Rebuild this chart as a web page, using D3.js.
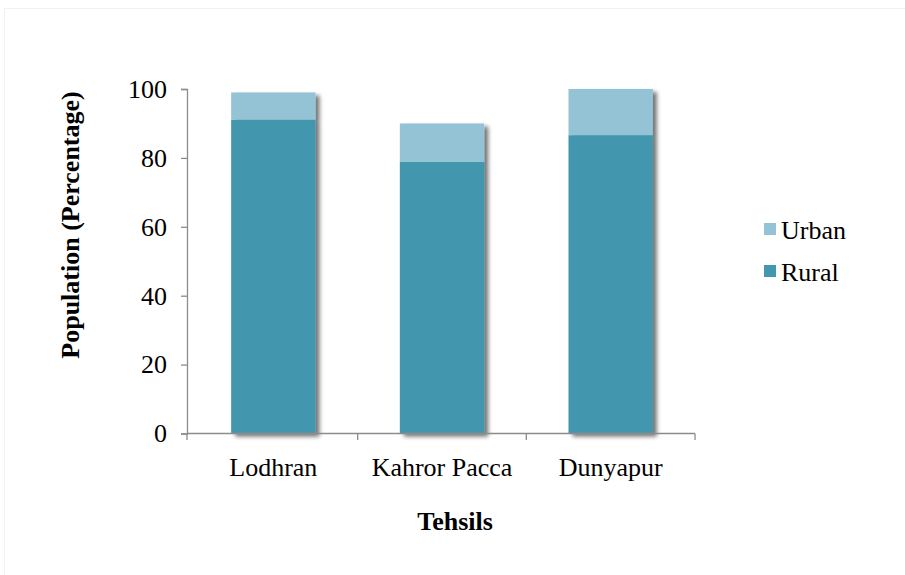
<!DOCTYPE html>
<html><head><meta charset="utf-8">
<script src="https://cdn.jsdelivr.net/npm/d3@7"></script>
<style>body{margin:0;background:#fff}svg{display:block}text{font-family:"Liberation Serif","Times New Roman",serif;fill:#000}</style>
</head><body>
<script>
const categories = ["Lodhran", "Kahror Pacca", "Dunyapur"];
const rural = [91.1, 78.8, 86.6];
const urban = [7.9, 11.2, 13.4];
const seriesNames = ["Urban", "Rural"];
const yTicks = [0, 20, 40, 60, 80, 100];

const W = 905, H = 575;
const svg = d3.select("body").append("svg").attr("width", W).attr("height", H);
const defs = svg.append("defs");
const f = defs.append("filter").attr("id","sh").attr("x","-20%").attr("y","-20%").attr("width","150%").attr("height","150%");
f.append("feGaussianBlur").attr("in","SourceAlpha").attr("stdDeviation",2.2).attr("result","b");
f.append("feOffset").attr("in","b").attr("dx",4).attr("dy",3).attr("result","o");
f.append("feComponentTransfer").attr("in","o").attr("result","o2").append("feFuncA").attr("type","linear").attr("slope",0.55);
const m = f.append("feMerge"); m.append("feMergeNode").attr("in","o2"); m.append("feMergeNode").attr("in","SourceGraphic");

svg.append("rect").attr("x",4.5).attr("y",8.5).attr("width",W).attr("height",H).attr("fill","none").attr("stroke","#f2f2f2");

const x = d3.scaleBand().domain(categories).range([189, 695]).paddingInner(0.5).paddingOuter(0.25);
const y = d3.scaleLinear().domain([0, 100]).range([433.5, 89]);

const data = categories.map((c,i)=>({cat:c, Rural:rural[i], Urban:urban[i]}));
const stack = d3.stack().keys(["Rural","Urban"])(data);
const colors = {Rural:"#4397AF", Urban:"#93C3D4"};

const gb = svg.append("g");
data.forEach((d,i)=>{
  const g = gb.append("g").attr("filter","url(#sh)");
  stack.forEach(s=>{
    g.append("rect").attr("x", x(d.cat)).attr("width", x.bandwidth())
      .attr("y", y(s[i][1])).attr("height", y(s[i][0]) - y(s[i][1]))
      .attr("fill", colors[s.key]);
  });
});

// y axis
const ya = svg.append("g").attr("transform","translate(187,0)")
  .call(d3.axisLeft(y).tickValues(yTicks).tickSize(6).tickPadding(14));
ya.select(".domain").attr("stroke","#8c8c8c").attr("stroke-width",1.3);
ya.selectAll(".tick line").attr("stroke","#8c8c8c").attr("stroke-width",1.3);
ya.selectAll(".tick text").style("font-size","26px").attr("font-family","Liberation Serif");

// x axis
const xa = svg.append("g").attr("transform","translate(0,433.5)")
  .call(d3.axisBottom(x).tickSize(0).tickPadding(24));
xa.select(".domain").attr("d","M187,0H695").attr("stroke","#8c8c8c").attr("stroke-width",1.3);
xa.selectAll(".tick text").style("font-size","26px").attr("font-family","Liberation Serif");
const bx = [187].concat(categories.slice(1).map(c=>x(c) - (x.step()-x.bandwidth())/2)).concat([695]);
svg.append("g").selectAll("line").data(bx).join("line")
  .attr("x1",d=>d).attr("x2",d=>d).attr("y1",433.5).attr("y2",440)
  .attr("stroke","#8c8c8c").attr("stroke-width",1.3);

// titles
svg.append("text").attr("x",455).attr("y",530).attr("text-anchor","middle")
  .style("font-size","26px").style("font-weight","bold").text("Tehsils");
svg.append("text").attr("transform","translate(79,225) rotate(-90)").attr("text-anchor","middle")
  .style("font-size","26px").style("font-weight","bold").text("Population (Percentage)");

// legend
const lg = svg.append("g");
seriesNames.forEach((n,i)=>{
  const yy = 223 + i*42;
  lg.append("rect").attr("x",764).attr("y",yy).attr("width",12).attr("height",12).attr("fill",colors[n]);
  lg.append("text").attr("x",781).attr("y",yy+16).style("font-size","26px").text(n);
});
</script>
</body></html>
